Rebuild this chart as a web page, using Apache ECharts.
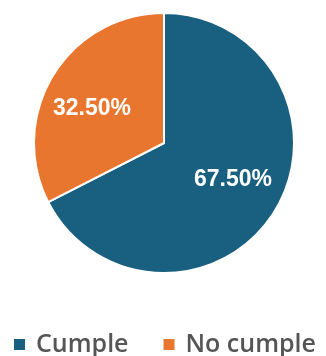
<!DOCTYPE html>
<html>
<head>
<meta charset="utf-8">
<script src="https://cdn.jsdelivr.net/npm/echarts@6/dist/echarts.min.js"></script>
<style>
  html, body { margin: 0; padding: 0; background: #fff; }
  #chart { width: 326px; height: 356px; }
</style>
</head>
<body>
<div id="chart"></div>
<script>
// Share of cases that meet / do not meet the requirement (percent)
const categories = ['Cumple', 'No cumple'];
const shares = [67.5, 32.5];
const sliceColors = ['#195f80', '#e8762f'];
// Per-slice nudge of the percentage labels
const labelOffsets = [[11, 1], [-14, 1]];

const chart = echarts.init(document.getElementById('chart'), null, { renderer: 'canvas' });

chart.setOption({
  animation: false,
  color: sliceColors,
  legend: {
    data: categories,
    bottom: -6,
    left: 7,
    icon: 'rect',
    itemWidth: 13,
    itemHeight: 13,
    itemGap: 33,
    textStyle: {
      fontFamily: 'Open Sans',
      fontWeight: 600,
      fontSize: 25,
      color: '#555',
      padding: [0, 0, 0, 5]
    }
  },
  series: [{
    type: 'pie',
    center: [164, 143],
    radius: [0, 130],
    startAngle: 90,
    clockwise: true,
    itemStyle: { borderColor: '#fff', borderWidth: 2 },
    label: {
      show: true,
      position: 'inside',
      formatter: p => p.value.toFixed(2) + '%',
      color: '#fff',
      fontFamily: 'Liberation Sans',
      fontWeight: 'bold',
      fontSize: 23
    },
    labelLine: { show: false },
    emphasis: { disabled: true },
    data: categories.map((name, i) => ({
      name,
      value: shares[i],
      label: { offset: labelOffsets[i] }
    }))
  }]
});
</script>
</body>
</html>
